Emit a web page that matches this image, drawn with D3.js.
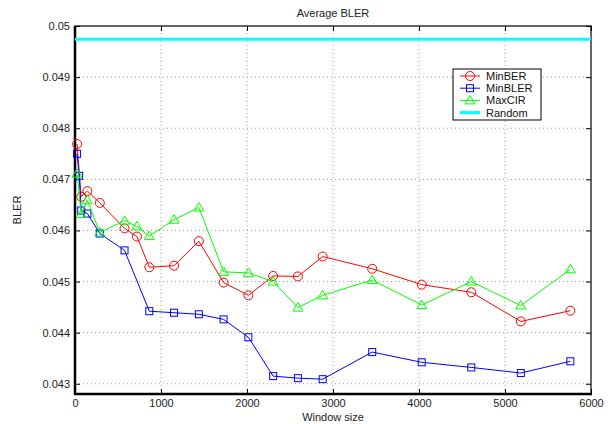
<!DOCTYPE html>
<html>
<head>
<meta charset="utf-8">
<script src="https://cdn.jsdelivr.net/npm/d3@7"></script>
<style>
  body { margin: 0; background: #fff; }
  svg { display: block; font-family: "Liberation Sans", Arial, sans-serif; }
</style>
</head>
<body>
<div id="chart"></div>
<script>
// window sizes (x), null where a series has no point
const windowSizes = [24, 48, 72, 144, 288, 576, 720, 864, 1152, 1440, 1728, 2016, 2304, 2592, 2880, 3456, 4032, 4608, 5184, 5760]
const minBER  = [0.04769, null, 0.04666, 0.04677, 0.04654, 0.04604, 0.04588, 0.04528, 0.04531, 0.04579, 0.04498, 0.04473, 0.04511, 0.04510, 0.04549, 0.04525, 0.04494, 0.04479, 0.04422, 0.04443]
const minBLER = [0.04750, 0.04707, 0.04639, 0.04633, 0.04594, 0.04561, null, 0.04442, 0.04439, 0.04436, 0.04426, 0.04391, 0.04315, 0.04311, 0.04309, 0.04362, 0.04342, 0.04332, 0.04321, 0.04344]
const maxCIR  = [0.04711, null, 0.04632, 0.04659, 0.04596, 0.04619, 0.04608, 0.04589, 0.04621, 0.04645, 0.04519, 0.04517, 0.04500, 0.04449, 0.04473, 0.04503, 0.04454, 0.04500, 0.04453, 0.04524]
const randomX = [0, 6000]
const randomBLER = [0.04974, 0.04974]

const xTicks = [0, 1000, 2000, 3000, 4000, 5000, 6000]
const yTicks = [0.043, 0.044, 0.045, 0.046, 0.047, 0.048, 0.049, 0.05]

const width = 610, height = 424
const margin = {top: 26, right: 19, bottom: 30, left: 75}

const svg = d3.select("#chart").append("svg")
  .attr("width", width)
  .attr("height", height)

const x = d3.scaleLinear().domain([0, 6000]).range([margin.left, width - margin.right])
const y = d3.scaleLinear().domain([0.0428, 0.05]).range([height - margin.bottom, margin.top])

const x0 = x.range()[0], x1 = x.range()[1]
const y0 = y.range()[0], y1 = y.range()[1]

// dotted grid
svg.append("g").selectAll("line")
  .data(xTicks.slice(1, -1))
  .join("line")
    .attr("x1", d => x(d)).attr("x2", d => x(d))
    .attr("y1", y0).attr("y2", y1)
    .attr("stroke", "#999").attr("stroke-width", 1)
    .attr("stroke-dasharray", "1,3")
svg.append("g").selectAll("line")
  .data(yTicks.filter(d => d < 0.05))
  .join("line")
    .attr("x1", x0).attr("x2", x1)
    .attr("y1", d => y(d)).attr("y2", d => y(d))
    .attr("stroke", "#999").attr("stroke-width", 1)
    .attr("stroke-dasharray", "1,3")

// axes, ticks pointing inward like matlab
svg.append("g")
  .attr("transform", `translate(0,${y0})`)
  .call(d3.axisBottom(x).tickValues(xTicks).tickSize(-5).tickPadding(5).tickFormat(d3.format("d")))
  .call(g => g.select(".domain").remove())
  .call(g => g.selectAll("text").attr("font-size", 11).attr("fill", "#222"))
svg.append("g")
  .attr("transform", `translate(0,${y1})`)
  .call(d3.axisTop(x).tickValues(xTicks).tickSize(-5).tickFormat(""))
  .call(g => g.select(".domain").remove())
svg.append("g")
  .attr("transform", `translate(${x0},0)`)
  .call(d3.axisLeft(y).tickValues(yTicks).tickSize(-5).tickPadding(5).tickFormat(d3.format("")))
  .call(g => g.select(".domain").remove())
  .call(g => g.selectAll("text").attr("font-size", 11).attr("fill", "#222"))
svg.append("g")
  .attr("transform", `translate(${x1},0)`)
  .call(d3.axisRight(y).tickValues(yTicks).tickSize(-5).tickFormat(""))
  .call(g => g.select(".domain").remove())

// frame
svg.append("rect")
  .attr("x", x0).attr("y", y1)
  .attr("width", x1 - x0).attr("height", y0 - y1)
  .attr("fill", "none").attr("stroke", "#000").attr("stroke-width", 1.2)
svg.append("line")
  .attr("x1", x0).attr("x2", x0).attr("y1", y1).attr("y2", y0 + 1)
  .attr("stroke", "#000").attr("stroke-width", 2.5)
svg.append("line")
  .attr("x1", x0 - 1).attr("x2", x1 + 1).attr("y1", y0).attr("y2", y0)
  .attr("stroke", "#000").attr("stroke-width", 2.5)

const series = [
  {name: "MinBER", values: minBER, color: "#ff0000", marker: "circle"},
  {name: "MinBLER", values: minBLER, color: "#0000ff", marker: "square"},
  {name: "MaxCIR", values: maxCIR, color: "#00ff00", marker: "triangle"}
]

const line = d3.line().x(d => x(d[0])).y(d => y(d[1]))

function drawMarker(g, type, color) {
  if (type == "circle") {
    g.append("circle").attr("r", 4.5)
      .attr("fill", "none").attr("stroke", color).attr("stroke-width", 1)
  } else if (type == "square") {
    g.append("rect").attr("x", -3.5).attr("y", -3.5).attr("width", 7).attr("height", 7)
      .attr("fill", "none").attr("stroke", color).attr("stroke-width", 1)
  } else {
    g.append("path").attr("d", "M0,-5L5,3.5L-5,3.5Z")
      .attr("fill", "none").attr("stroke", color).attr("stroke-width", 1)
  }
}

// random baseline
svg.append("path")
  .datum(randomX.map((d, i) => [d, randomBLER[i]]))
  .attr("d", line)
  .attr("fill", "none").attr("stroke", "#00ffff").attr("stroke-width", 3)

series.forEach(s => {
  const pts = windowSizes.map((w, i) => [w, s.values[i]]).filter(p => p[1] != null)
  svg.append("path")
    .datum(pts)
    .attr("d", line)
    .attr("fill", "none").attr("stroke", s.color).attr("stroke-width", 1)
  svg.append("g").selectAll("g")
    .data(pts)
    .join("g")
      .attr("transform", d => `translate(${x(d[0])},${y(d[1])})`)
      .each(function() { drawMarker(d3.select(this), s.marker, s.color) })
})

// legend
const legend = svg.append("g").attr("transform", "translate(453,69)")
legend.append("rect")
  .attr("width", 88).attr("height", 51)
  .attr("fill", "#fff").attr("stroke", "#000").attr("stroke-width", 1)
const legendItems = series.concat([{name: "Random", color: "#00ffff", marker: null}])
legendItems.forEach((s, i) => {
  const row = legend.append("g").attr("transform", `translate(0,${7 + i * 12.2})`)
  row.append("line")
    .attr("x1", 7).attr("x2", 27)
    .attr("stroke", s.color).attr("stroke-width", s.marker ? 1 : 3)
  if (s.marker) {
    const m = row.append("g").attr("transform", "translate(17,0)")
    drawMarker(m, s.marker, s.color)
  }
  row.append("text")
    .attr("x", 33).attr("y", 4)
    .attr("font-size", 11).attr("fill", "#111")
    .text(s.name)
})

// titles
svg.append("text")
  .attr("x", (x0 + x1) / 2).attr("y", 17)
  .attr("text-anchor", "middle").attr("font-size", 11).attr("fill", "#222")
  .text("Average BLER")
svg.append("text")
  .attr("x", (x0 + x1) / 2).attr("y", 421)
  .attr("text-anchor", "middle").attr("font-size", 11).attr("fill", "#222")
  .text("Window size")
svg.append("text")
  .attr("transform", `translate(21,${(y0 + y1) / 2}) rotate(-90)`)
  .attr("text-anchor", "middle").attr("font-size", 11).attr("fill", "#222")
  .text("BLER")
</script>
</body>
</html>
